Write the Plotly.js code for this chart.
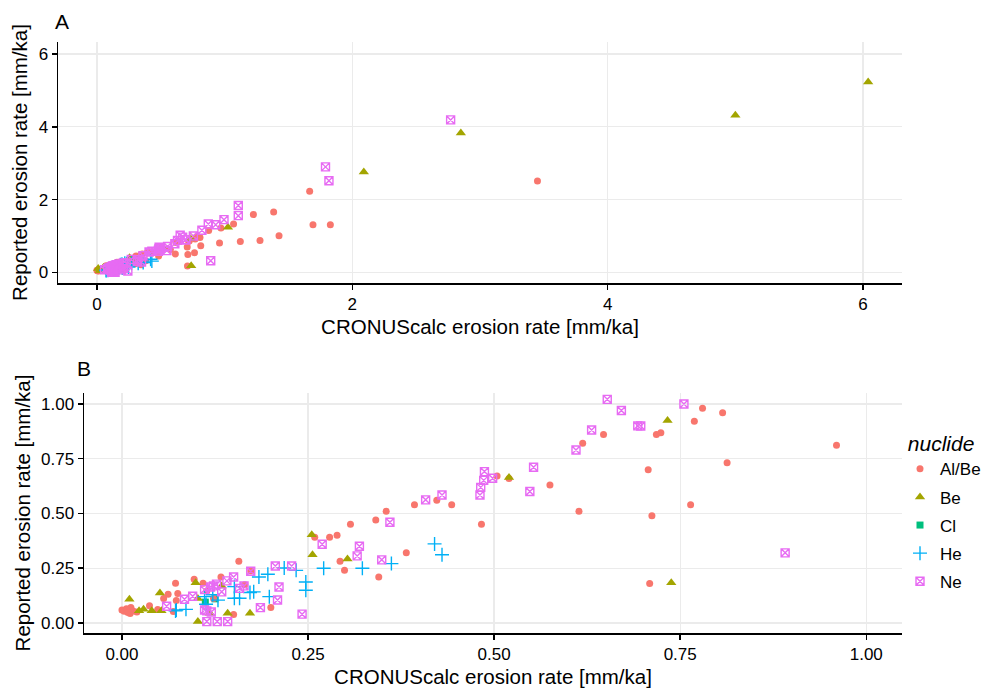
<!DOCTYPE html>
<html>
<head>
<meta charset="utf-8">
<script src="https://cdn.plot.ly/plotly-3.0.1.min.js"></script>
<style>html,body{margin:0;padding:0;background:#fff;}#chart{width:988px;height:691px;}</style>
</head>
<body>
<div id="chart"></div>
<script>
// ---- data (CRONUScalc rate x, reported rate y), per nuclide ----
const nuclides = ["Al/Be", "Be", "Cl", "He", "Ne"];
const colors = ["#F8766D", "#A3A500", "#00BF7D", "#00B0F6", "#E76BF3"];

const alBeX = [0.780,0.807,0.769,0.718,0.724,0.647,0.619,0.960,0.813,0.707,0.575,0.504,0.520,0.443,0.423,0.393,0.355,0.341,0.483,0.614,0.712,0.764,0.382,0.345,0.709,
  0.307,0.289,0.279,0.259,0.293,0.299,0.157,0.173,0.133,0.097,0.109,0.072,0.062,0.075,0.056,0.073,0.037,0.048,0.069,0.012,0.000,0.003,0.011,0.015,0.123,0.165,0.150,0.200,0.114,0.006,0.020,0.008,
  1.070,1.123,1.225,1.277,1.384,1.426,1.666,1.692,1.828,0.971,0.875,3.45];
const alBeY = [0.980,0.960,0.921,0.860,0.869,0.860,0.820,0.811,0.731,0.700,0.630,0.671,0.660,0.540,0.560,0.540,0.510,0.470,0.451,0.510,0.490,0.540,0.321,0.210,0.180,
  0.451,0.400,0.391,0.391,0.282,0.240,0.282,0.237,0.210,0.199,0.181,0.181,0.131,0.134,0.111,0.102,0.079,0.061,0.052,0.070,0.059,0.053,0.043,0.055,0.111,0.174,0.038,0.070,0.146,0.065,0.050,0.048,
  1.33,0.85,1.59,0.88,1.66,1.01,2.23,1.31,1.31,1.22,1.15,2.51];

const beX = [0.733,0.520,0.738,0.255,0.256,0.303,0.010,0.051,0.099,0.102,0.023,0.029,0.040,0.053,0.134,0.102,0.142,0.172,0.118,
  1.026,2.09,2.85,5.00,6.04];
const beY = [0.924,0.664,0.184,0.403,0.311,0.292,0.108,0.137,0.184,0.111,0.056,0.062,0.056,0.056,0.169,0.006,0.044,0.044,0.044,
  1.24,2.76,3.83,4.32,5.23];

const clX = [0.112,0.125];
const clY = [0.095,0.110];

const heX = [0.420,0.430,0.362,0.073,0.086,0.111,0.113,0.122,0.129,0.151,0.151,0.158,0.172,0.177,0.184,0.196,0.198,0.218,0.234,0.247,0.247,0.271,0.323,0.072];
const heY = [0.361,0.311,0.271,0.059,0.062,0.120,0.085,0.129,0.104,0.166,0.113,0.113,0.139,0.142,0.210,0.222,0.120,0.251,0.240,0.187,0.149,0.250,0.250,0.055];

const neX = [0.652,0.671,0.693,0.697,0.755,0.631,0.610,0.553,0.548,0.487,0.486,0.498,0.482,0.481,0.430,0.408,0.360,0.891,0.349,
  0.060,0.084,0.095,0.111,0.119,0.123,0.127,0.134,0.111,0.114,0.120,0.114,0.128,0.142,0.141,0.150,0.158,0.164,0.173,0.206,0.228,0.211,0.209,0.186,0.242,0.269,0.319,0.316,
  1.107,1.107,0.995,0.93,0.872,0.822,1.817,1.79,2.77];
const neY = [1.021,0.970,0.900,0.899,1.000,0.881,0.790,0.711,0.600,0.691,0.651,0.661,0.619,0.584,0.584,0.562,0.460,0.320,0.288,
  0.076,0.108,0.122,0.152,0.164,0.169,0.177,0.142,0.059,0.055,0.050,0.006,0.006,0.006,0.192,0.210,0.158,0.169,0.236,0.260,0.260,0.164,0.105,0.070,0.040,0.359,0.350,0.306,
  1.84,1.56,1.45,1.31,1.33,1.16,2.52,2.90,4.19];

const panelATicks = [0, 2, 4, 6];
const panelBTicks = [0, 0.25, 0.5, 0.75, 1.0];

// ---- styling ----
const series = [
  {name: "Cl",    x: clX,   y: clY,   sym: "square",          size: 7,  rank: 3},
  {name: "Al/Be", x: alBeX, y: alBeY, sym: "circle",          size: 7,  rank: 1},
  {name: "Be",    x: beX,   y: beY,   sym: "triangle-up",     size: 9,  rank: 2},
  {name: "He",    x: heX,   y: heY,   sym: "cross-thin-open", size: 10, rank: 4},
  {name: "Ne",    x: neX,   y: neY,   sym: "square-x-open",   size: 8,  rank: 5}
];

const traces = [];
series.forEach(s => {
  const col = colors[nuclides.indexOf(s.name)];
  const isOpen = s.sym.indexOf("open") >= 0;
  const marker = {symbol: s.sym, size: s.size, color: col,
                  line: {color: col, width: isOpen ? 1.4 : 0}};
  ["", "2"].forEach((ax, i) => {
    traces.push({
      type: "scatter", mode: "markers", name: s.name,
      x: s.x, y: s.y, xaxis: "x" + ax, yaxis: "y" + ax,
      marker: marker, legendgroup: s.name, legendrank: s.rank,
      showlegend: i === 0, hoverinfo: "x+y+name"
    });
  });
});

const W = 988, H = 691;
const fontFam = "Liberation Sans, Arial, Helvetica, sans-serif";
const axBase = {
  showline: true, linecolor: "#000", linewidth: 1.5,
  ticks: "outside", ticklen: 5, tickwidth: 1.5, tickcolor: "#000",
  showgrid: true, gridcolor: "#EBEBEB", gridwidth: 1.3,
  zeroline: false, mirror: false,
  tickfont: {family: fontFam, size: 17, color: "#000"}
};
const titleFont = {family: fontFam, size: 20.5, color: "#000"};
const xTitle = "CRONUScalc erosion rate [mm/ka]";
const yTitle = "Reported erosion rate [mm/ka]";

const layout = {
  width: W, height: H,
  margin: {l: 0, r: 0, t: 0, b: 0},
  paper_bgcolor: "#fff", plot_bgcolor: "#fff",
  font: {family: fontFam, color: "#000"},
  xaxis: Object.assign({}, axBase, {
    domain: [58 / W, 902 / W], anchor: "y",
    range: [-0.305, 6.305], tickvals: panelATicks, ticktext: panelATicks.map(String),
    title: {text: xTitle, font: titleFont, standoff: 6}
  }),
  yaxis: Object.assign({}, axBase, {
    domain: [1 - 283 / H, 1 - 42 / H], anchor: "x",
    range: [-0.29, 6.33], tickvals: panelATicks, ticktext: panelATicks.map(String),
    title: {text: yTitle, font: titleFont, standoff: 5}
  }),
  xaxis2: Object.assign({}, axBase, {
    domain: [84 / W, 902 / W], anchor: "y2",
    range: [-0.051, 1.048], tickvals: panelBTicks, ticktext: panelBTicks.map(v => v.toFixed(2)),
    title: {text: xTitle, font: titleFont, standoff: 6}
  }),
  yaxis2: Object.assign({}, axBase, {
    domain: [1 - 633 / H, 1 - 393 / H], anchor: "x2",
    range: [-0.046, 1.05], tickvals: panelBTicks, ticktext: panelBTicks.map(v => v.toFixed(2)),
    title: {text: yTitle, font: titleFont, standoff: 5}
  }),
  showlegend: true,
  legend: {
    x: 900 / W, xanchor: "left", y: 1 - 424 / H, yanchor: "top",
    bgcolor: "rgba(0,0,0,0)", itemsizing: "trace",
    tracegroupgap: 3,
    font: {family: fontFam, size: 17, color: "#000"},
    title: {text: "\u00a0nuclide", font: {family: fontFam, size: 21, color: "#000", style: "italic"}}
  },
  annotations: [
    {text: "A", xref: "paper", yref: "paper", x: 53 / W, y: 1 - 21 / H, xanchor: "left", yanchor: "middle",
     showarrow: false, font: {family: fontFam, size: 21, color: "#000"}},
    {text: "B", xref: "paper", yref: "paper", x: 75 / W, y: 1 - 368 / H, xanchor: "left", yanchor: "middle",
     showarrow: false, font: {family: fontFam, size: 21, color: "#000"}}
  ]
};

Plotly.newPlot("chart", traces, layout, {displayModeBar: false, staticPlot: true});
</script>
</body>
</html>
